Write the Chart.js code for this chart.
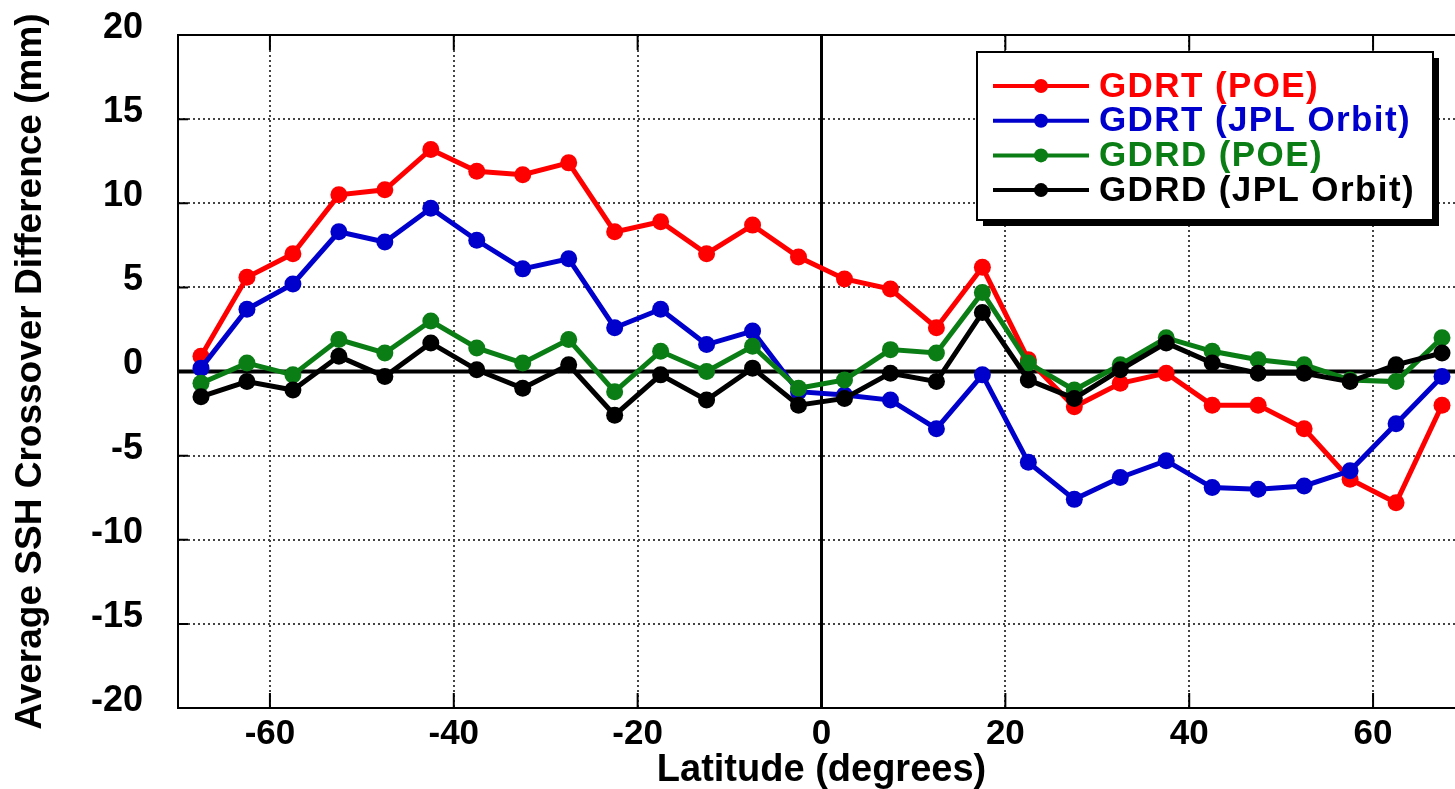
<!DOCTYPE html>
<html>
<head>
<meta charset="utf-8">
<script src="https://cdn.jsdelivr.net/npm/chart.js@4.4.0/dist/chart.umd.min.js"></script>
<style>
  html, body { margin: 0; padding: 0; background: #fff; overflow: hidden; }
  #wrap { position: absolute; left: 0; top: 0; width: 1480px; height: 789px; }
</style>
</head>
<body>
<div id="wrap"><canvas id="chart"></canvas></div>
<script>
// latitude bin centres (degrees)
const latitude = [-67.5, -62.5, -57.5, -52.5, -47.5, -42.5, -37.5, -32.5, -27.5, -22.5,
                  -17.5, -12.5, -7.5, -2.5, 2.5, 7.5, 12.5, 17.5, 22.5, 27.5,
                  32.5, 37.5, 42.5, 47.5, 52.5, 57.5, 62.5, 67.5];

// average SSH crossover difference (mm)
const gdrtPoe = [0.9, 5.6, 7.0, 10.5, 10.8, 13.2, 11.9, 11.7, 12.4, 8.3,
                 8.9, 7.0, 8.7, 6.8, 5.5, 4.9, 2.6, 6.2, 0.7, -2.1,
                 -0.7, -0.1, -2.0, -2.0, -3.4, -6.4, -7.8, -2.0];
const gdrtJpl = [0.2, 3.7, 5.2, 8.3, 7.7, 9.7, 7.8, 6.1, 6.7, 2.6,
                 3.7, 1.6, 2.4, -1.2, -1.4, -1.7, -3.4, -0.2, -5.4, -7.6,
                 -6.3, -5.3, -6.9, -7.0, -6.8, -5.9, -3.1, -0.3];
const gdrdPoe = [-0.7, 0.5, -0.2, 1.9, 1.1, 3.0, 1.4, 0.5, 1.9, -1.2,
                 1.2, 0.0, 1.5, -1.0, -0.5, 1.3, 1.1, 4.7, 0.5, -1.1,
                 0.4, 2.0, 1.2, 0.7, 0.4, -0.5, -0.6, 2.0];
const gdrdJpl = [-1.5, -0.6, -1.1, 0.9, -0.3, 1.7, 0.1, -1.0, 0.4, -2.6,
                 -0.2, -1.7, 0.2, -2.0, -1.6, -0.1, -0.6, 3.5, -0.5, -1.6,
                 0.1, 1.7, 0.5, -0.1, -0.1, -0.6, 0.4, 1.1];

const seriesNames = ['GDRT (POE)', 'GDRT (JPL Orbit)', 'GDRD (POE)', 'GDRD (JPL Orbit)'];
const seriesColors = ['#ff0000', '#0000cc', '#0a7d15', '#000000'];
const xTicks = [-60, -40, -20, 0, 20, 40, 60];

const FONT = '"Liberation Sans", Arial, Helvetica, sans-serif';

function makeSeries(idx, values) {
    return {
        label: seriesNames[idx],
        data: latitude.map((lat, i) => ({ x: lat, y: values[i] })),
        borderColor: seriesColors[idx],
        backgroundColor: seriesColors[idx],
        borderWidth: 5,
        pointRadius: 8.5,
        pointHoverRadius: 8.5,
        pointBorderWidth: 0,
        tension: 0,
        order: 3 - idx
    };
}

/* zero lines, frame, inner ticks and the boxed legend */
const framePlugin = {
    id: 'framePlugin',
    beforeDatasetsDraw(chart) {
        const { ctx, chartArea: a, scales: { x, y } } = chart;
        ctx.save();
        ctx.strokeStyle = '#000';
        ctx.lineWidth = 4;
        ctx.beginPath();
        ctx.moveTo(a.left, y.getPixelForValue(0));
        ctx.lineTo(a.right, y.getPixelForValue(0));
        ctx.stroke();
        ctx.lineWidth = 3;
        ctx.beginPath();
        ctx.moveTo(x.getPixelForValue(0), a.top);
        ctx.lineTo(x.getPixelForValue(0), a.bottom);
        ctx.stroke();
        ctx.restore();
    },
    afterDraw(chart) {
        const { ctx, chartArea: a, scales: { x, y } } = chart;
        ctx.save();
        ctx.strokeStyle = '#000';
        ctx.lineWidth = 2;
        ctx.strokeRect(a.left, a.top, a.right - a.left, a.bottom - a.top);

        // inward ticks
        ctx.beginPath();
        y.ticks.forEach(t => {
            const py = y.getPixelForValue(t.value);
            ctx.moveTo(a.left, py); ctx.lineTo(a.left + 10, py);
            ctx.moveTo(a.right, py); ctx.lineTo(a.right - 10, py);
        });
        x.ticks.forEach(t => {
            const px = x.getPixelForValue(t.value);
            ctx.moveTo(px, a.bottom); ctx.lineTo(px, a.bottom - 15);
            ctx.moveTo(px, a.top); ctx.lineTo(px, a.top + 15);
        });
        ctx.stroke();

        // legend box with drop shadow
        const bx = a.right - 488, by = a.top + 17, bw = 456, bh = 168;
        ctx.fillStyle = '#000';
        ctx.fillRect(bx + 6, by + 6, bw, bh);
        ctx.fillStyle = '#fff';
        ctx.fillRect(bx, by, bw, bh);
        ctx.lineWidth = 2;
        ctx.strokeRect(bx, by, bw, bh);

        ctx.font = 'bold 35px ' + FONT;
        ctx.letterSpacing = '1.4px';
        ctx.textBaseline = 'middle';
        chart.data.datasets.forEach((ds, i) => {
            const ry = by + 34 + i * 34.7;
            ctx.strokeStyle = ds.borderColor;
            ctx.fillStyle = ds.borderColor;
            ctx.lineWidth = 4;
            ctx.beginPath();
            ctx.moveTo(bx + 16, ry); ctx.lineTo(bx + 112, ry);
            ctx.stroke();
            ctx.beginPath();
            ctx.arc(bx + 64, ry, 7, 0, Math.PI * 2);
            ctx.fill();
            ctx.fillText(ds.label, bx + 122, ry + 1);
        });
        ctx.restore();
    }
};

const ctx = document.getElementById('chart').getContext('2d');
const chart = new Chart(ctx, {
    type: 'line',
    data: {
        datasets: [
            makeSeries(0, gdrtPoe),
            makeSeries(1, gdrtJpl),
            makeSeries(2, gdrdPoe),
            makeSeries(3, gdrdJpl)
        ]
    },
    options: {
        responsive: true,
        maintainAspectRatio: false,
        animation: false,
        layout: { padding: { top: 35, right: 15, left: 0, bottom: 0 } },
        plugins: {
            legend: { display: false },
            tooltip: { enabled: false }
        },
        scales: {
            x: {
                type: 'linear',
                min: -70,
                max: 70,
                afterBuildTicks: scale => { scale.ticks = xTicks.map(v => ({ value: v })); },
                afterFit: scale => { scale.height = 81; scale.paddingLeft = 0; scale.paddingRight = 0; },
                grid: { color: '#444', lineWidth: 2, drawTicks: false },
                border: { display: false, dash: [2, 3] },
                ticks: {
                    color: '#000',
                    padding: 5,
                    maxRotation: 0,
                    font: { family: FONT, size: 35, weight: 'bold' },
                    callback: v => String(v)
                },
                title: {
                    display: true,
                    text: 'Latitude (degrees)',
                    color: '#000',
                    padding: { top: 0, bottom: -4 },
                    font: { family: FONT, size: 38, weight: 'bold' }
                }
            },
            y: {
                min: -20,
                max: 20,
                afterFit: scale => { scale.width = 178; scale.paddingTop = 0; scale.paddingBottom = 0; },
                grid: { color: '#444', lineWidth: 2, drawTicks: false },
                border: { display: false, dash: [2, 3] },
                ticks: {
                    stepSize: 5,
                    color: '#000',
                    padding: 35,
                    labelOffset: -7,
                    font: { family: FONT, size: 36, weight: 'bold' }
                },
                title: {
                    display: true,
                    text: 'Average SSH Crossover Difference (mm)',
                    color: '#000',
                    padding: { top: 9, bottom: 0 },
                    font: { family: FONT, size: 37, weight: 'bold' }
                }
            }
        }
    },
    plugins: [framePlugin]
});
</script>
</body>
</html>
